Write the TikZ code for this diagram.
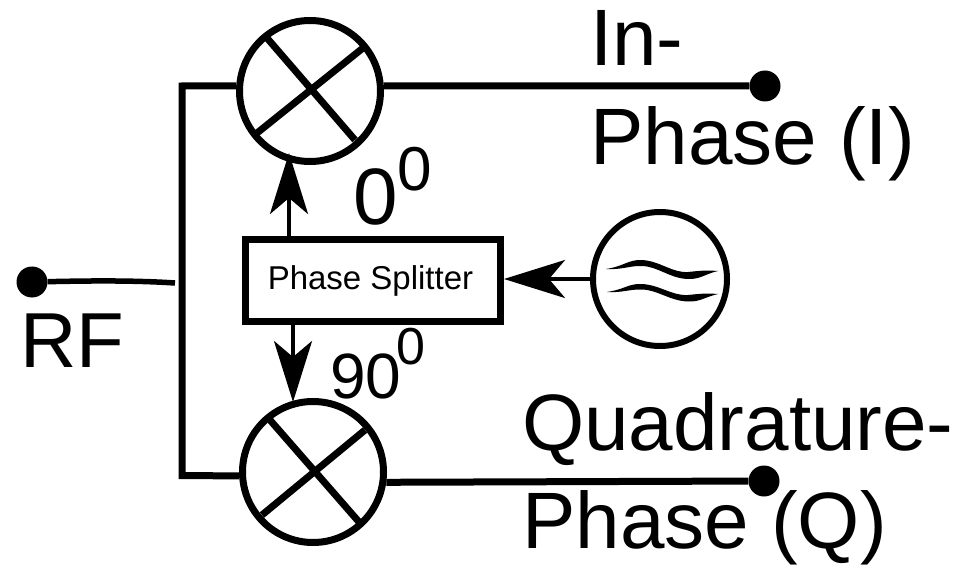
\documentclass[tikz,border=0pt]{standalone}
\usepackage{fontspec}
\setmainfont{Liberation Sans}
\usetikzlibrary{arrows.meta}
\newcommand{\supzero}[3]{\kern#1\raisebox{#2}{\fontsize{#3}{#3}\selectfont 0}}
\tikzset{
  mixer/.style={circle,draw,line width=7bp,minimum size=141bp,inner sep=0pt},
  osc/.style={circle,draw,line width=6bp,minimum size=134bp,inner sep=0pt},
  wire/.style={line width=7bp,line join=miter},
  thinwire/.style={line width=3.5bp,-{Stealth[length=61bp,width=38bp,inset=16bp]}},
  dot/.style={circle,fill=black,minimum size=31bp,inner sep=0pt},
  splitter/.style={draw,line width=7bp,minimum width=255bp,minimum height=81bp,inner sep=0pt},
  big/.style={anchor=base west,inner sep=0pt,font=\fontsize{80bp}{82bp}\selectfont},
  num/.style={anchor=base west,inner sep=0pt,font=\fontsize{64bp}{66bp}\selectfont}
}
\begin{document}
\begin{tikzpicture}[x=1bp,y=-1bp]
\useasboundingbox (0,0) rectangle (954,566);
% coordinates
\coordinate (c1) at (182,86);
\coordinate (c2) at (182,475.6);
\coordinate (rfend) at (175,283);
\coordinate (upstart) at (289,238);
\coordinate (uptip) at (289,153);
\coordinate (downstart) at (293,323);
\coordinate (downtip) at (293,402);
\coordinate (oscout) at (594,279);
\coordinate (osctip) at (504,279);
% nodes
\node[mixer] (m1) at (310,91) {};
\node[mixer] (m2) at (313,472) {};
\node[osc] (lo) at (660,279) {};
\node[splitter,font=\fontsize{33bp}{36bp}\selectfont] (box) at (372.5,280.5) {\raisebox{2.5bp}{Phase Splitter}\kern4bp};
\node[dot] (d1) at (765,86) {};
\node[dot] (d2) at (764,481) {};
\node[dot] (rf) at (32,282) {};
% cross lines
\coordinate (a1) at (267,38); \coordinate (a2) at (355,140);
\coordinate (a3) at (363,48); \coordinate (a4) at (257,133);
\coordinate (b1) at (270,420); \coordinate (b2) at (359,522);
\coordinate (b3) at (365,430); \coordinate (b4) at (262,515);
\draw[line width=7bp] (a1) -- (a2);
\draw[line width=7bp] (a3) -- (a4);
\draw[line width=7bp] (b1) -- (b2);
\draw[line width=7bp] (b3) -- (b4);
% wires
\draw[wire] (m1.176) -- (c1) -- (c2) -- (m2.183);
\draw[wire] (m1.4) -- (d1);
\draw[wire] (m2.-8) -- (d2);
\draw[line width=5.5bp] (rf) .. controls (80,281) and (130,280) .. (rfend);
% arrows
\draw[thinwire] (upstart) -- (uptip);
\draw[thinwire] (downstart) -- (downtip);
\draw[thinwire] (oscout) -- (osctip);
% waves
\fill (606,269) .. controls (625,266) and (628,259.5) .. (642,260)
  .. controls (660,261) and (672,273) .. (688,272)
  .. controls (698,271) and (705,270) .. (718,271)
  .. controls (705,274) and (700,279.5) .. (688,279)
  .. controls (670,278.5) and (658,266.5) .. (642,266)
  .. controls (630,265.5) and (622,270) .. (606,269) -- cycle;
\fill (607,292) .. controls (626,289) and (628,283.5) .. (642,284)
  .. controls (660,285) and (672,296) .. (688,295)
  .. controls (698,294) and (705,293) .. (718,294)
  .. controls (705,297) and (700,302) .. (688,301.5)
  .. controls (670,301) and (658,290) .. (642,289.5)
  .. controls (630,289) and (622,293) .. (607,292) -- cycle;
% labels
\node[big] (t1) at (590,66) {In-};
\node[big] (t2) at (590,165) {Phase (I)};
\node[big] (t3) at (522,450) {Quadrature-};
\node[big] (t4) at (522,548) {Phase (Q)};
\node[big,font=\fontsize{78bp}{80bp}\selectfont] (t5) at (20,367) {RF};
\node[big] (t6) at (353,225) {0\supzero{0bp}{34bp}{62bp}};
\node[num] (t8) at (330,398) {90\supzero{-5.2bp}{34bp}{52bp}};
\end{tikzpicture}
\end{document}
